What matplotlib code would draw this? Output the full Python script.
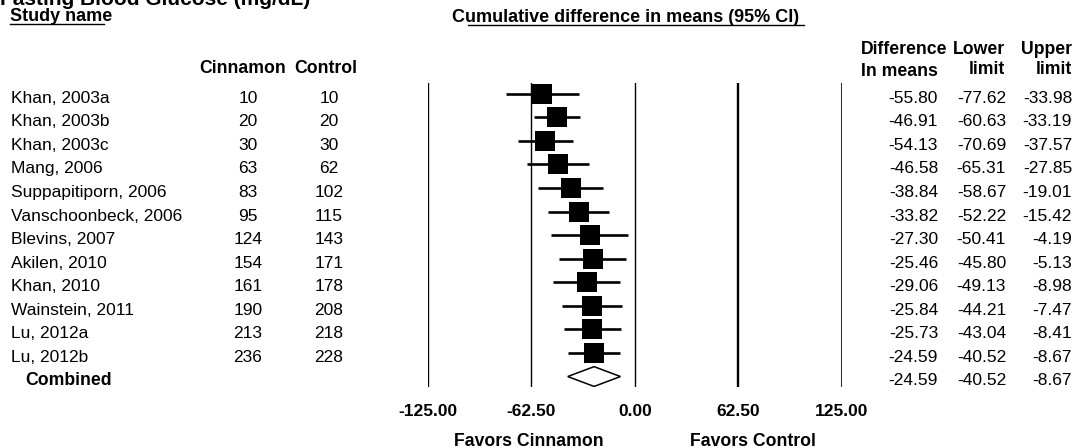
import matplotlib
matplotlib.use("Agg")
import matplotlib.pyplot as plt
from matplotlib.lines import Line2D
from matplotlib.patches import Polygon
from matplotlib.transforms import blended_transform_factory

plt.rcParams['font.family'] = ['Liberation Sans', 'DejaVu Sans']

# ---------------- data ----------------
studies = ["Khan, 2003a", "Khan, 2003b", "Khan, 2003c", "Mang, 2006",
           "Suppapitiporn, 2006", "Vanschoonbeck, 2006", "Blevins, 2007",
           "Akilen, 2010", "Khan, 2010", "Wainstein, 2011", "Lu, 2012a", "Lu, 2012b"]
n_cinnamon = [10, 20, 30, 63, 83, 95, 124, 154, 161, 190, 213, 236]
n_control = [10, 20, 30, 62, 102, 115, 143, 171, 178, 208, 218, 228]
diff_means = [-55.80, -46.91, -54.13, -46.58, -38.84, -33.82, -27.30, -25.46,
              -29.06, -25.84, -25.73, -24.59]
lower_limit = [-77.62, -60.63, -70.69, -65.31, -58.67, -52.22, -50.41, -45.80,
               -49.13, -44.21, -43.04, -40.52]
upper_limit = [-33.98, -33.19, -37.57, -27.85, -19.01, -15.42, -4.19, -5.13,
               -8.98, -7.47, -8.41, -8.67]
combined_label = "Combined"
combined_diff = -24.59
combined_lower = -40.52
combined_upper = -8.67
x_ticks = [-125.0, -62.5, 0.0, 62.5, 125.0]
x_tick_labels = ["-125.00", "-62.50", "0.00", "62.50", "125.00"]

# ---------------- layout ----------------
W, H = 1075, 448
fig = plt.figure(figsize=(W / 100, H / 100), dpi=100)


def fx(px):
    return px / W


def fy(py):
    return 1 - py / H


row0_px = 93.7
row_step = 23.57
ax_left, ax_right = 427.9, 841.7
ax_top, ax_bot = 83.0, 387.0
ax = fig.add_axes([fx(ax_left), fy(ax_bot), (ax_right - ax_left) / W, (ax_bot - ax_top) / H])
ax.set_xlim(x_ticks[0], x_ticks[-1])
ax.set_ylim((ax_bot - row0_px) / row_step, (ax_top - row0_px) / row_step)
for s in ax.spines.values():
    s.set_visible(False)
ax.set_yticks([])
ax.set_xticks(x_ticks, labels=x_tick_labels)
ax.tick_params(axis='x', length=0, pad=12.5)
for lbl in ax.get_xticklabels():
    lbl.set_fontweight('bold')
    lbl.set_fontsize(12.5)

vline_widths = [1.7, 1.0, 1.0, 1.7, 1.2]
for t, lw in zip(x_ticks, vline_widths):
    ax.axvline(t, color='black', lw=lw, zorder=1)

rows = list(range(len(studies)))
ax.hlines(rows, lower_limit, upper_limit, color='black', lw=1.9, zorder=2)
ax.plot(diff_means, rows, linestyle='none', marker='s', markersize=13.8,
        color='black', markeredgewidth=0, zorder=3)

crow = len(studies)
half_h = 0.42
diamond = Polygon([(combined_lower, crow), (combined_diff, crow - half_h),
                   (combined_upper, crow), (combined_diff, crow + half_h)],
                  closed=True, facecolor='white', edgecolor='black', lw=1.1, zorder=3)
ax.add_patch(diamond)

# ---------------- texts ----------------
FS = 12.5
FSB = 12.7
trans = blended_transform_factory(fig.transFigure, ax.transData)
base_off = 0.38

for i, name in enumerate(studies):
    y = i + base_off
    fig.text(fx(11), y, name, transform=trans, fontsize=FS, va='baseline', ha='left')
    fig.text(fx(248), y, str(n_cinnamon[i]), transform=trans, fontsize=FS, va='baseline', ha='center')
    fig.text(fx(329), y, str(n_control[i]), transform=trans, fontsize=FS, va='baseline', ha='center')
    fig.text(fx(938), y, f"{diff_means[i]:.2f}", transform=trans, fontsize=FS, va='baseline', ha='right')
    fig.text(fx(1006), y, f"{lower_limit[i]:.2f}", transform=trans, fontsize=FS, va='baseline', ha='right')
    fig.text(fx(1072), y, f"{upper_limit[i]:.2f}", transform=trans, fontsize=FS, va='baseline', ha='right')

yc = crow + base_off
fig.text(fx(25), yc, combined_label, transform=trans, fontsize=FSB, fontweight='bold', va='baseline', ha='left')
fig.text(fx(938), yc, f"{combined_diff:.2f}", transform=trans, fontsize=FS, va='baseline', ha='right')
fig.text(fx(1006), yc, f"{combined_lower:.2f}", transform=trans, fontsize=FS, va='baseline', ha='right')
fig.text(fx(1072), yc, f"{combined_upper:.2f}", transform=trans, fontsize=FS, va='baseline', ha='right')

# headers
fig.text(fx(0), fy(5), "Fasting Blood Glucose (mg/dL)", fontsize=15, fontweight='bold', va='baseline', ha='left')
fig.text(fx(10), fy(21), "Study name", fontsize=13, fontweight='bold', va='baseline', ha='left')
fig.add_artist(Line2D([fx(10), fx(104)], [fy(23.8)] * 2, transform=fig.transFigure, color='black', lw=1.0))
fig.text(fx(452), fy(22.5), "Cumulative difference in means (95% CI)", fontsize=13,
         fontweight='bold', va='baseline', ha='left')
fig.add_artist(Line2D([fx(468), fx(804)], [fy(25)] * 2, transform=fig.transFigure, color='black', lw=1.0))

fig.text(fx(243), fy(73), "Cinnamon", fontsize=FSB, fontweight='bold', va='baseline', ha='center')
fig.text(fx(326), fy(73), "Control", fontsize=FSB, fontweight='bold', va='baseline', ha='center')

fig.text(fx(861), fy(54), "Difference", fontsize=FSB, fontweight='bold', va='baseline', ha='left')
fig.text(fx(861), fy(76), "In means", fontsize=FSB, fontweight='bold', va='baseline', ha='left')
fig.text(fx(1005), fy(54), "Lower", fontsize=FSB, fontweight='bold', va='baseline', ha='right')
fig.text(fx(1005), fy(73.5), "limit", fontsize=FSB, fontweight='bold', va='baseline', ha='right')
fig.text(fx(1072), fy(54), "Upper", fontsize=FSB, fontweight='bold', va='baseline', ha='right')
fig.text(fx(1072), fy(73.5), "limit", fontsize=FSB, fontweight='bold', va='baseline', ha='right')

fig.text(fx(529), fy(446), "Favors Cinnamon", fontsize=FSB, fontweight='bold', va='baseline', ha='center')
fig.text(fx(753), fy(446), "Favors Control", fontsize=FSB, fontweight='bold', va='baseline', ha='center')

fig.savefig("out.png", dpi=100, facecolor='white')
